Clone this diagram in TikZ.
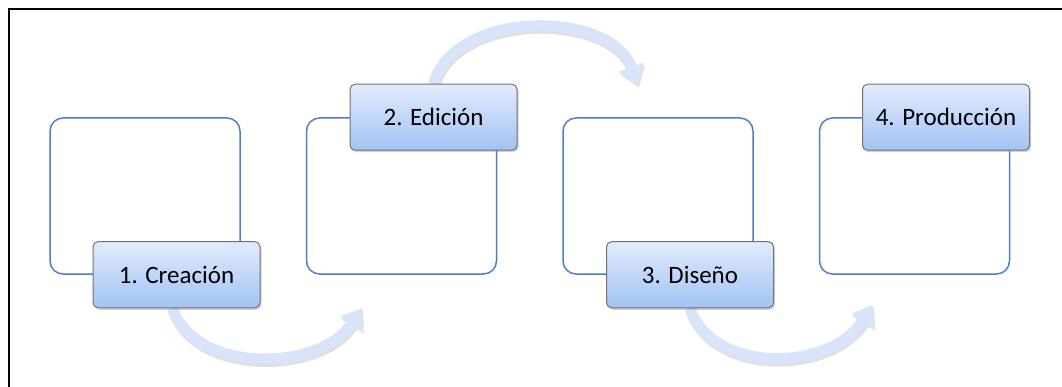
\documentclass[tikz,border=0pt]{standalone}
\usepackage{fontspec}
\setmainfont{Carlito}
\usetikzlibrary{arrows.meta,shadows,backgrounds}

\definecolor{boxline}{RGB}{79,129,189}
\definecolor{labtop}{RGB}{226,235,252}
\definecolor{labbot}{RGB}{162,194,245}
\definecolor{flowblue}{RGB}{216,228,249}

\tikzset{
  stage/.style={draw=boxline,line width=1.5pt,rounded corners=13pt,
    minimum width=190pt,minimum height=156pt,inner sep=0pt,fill=white},
  tag/.style={draw=black!55,line width=1pt,rounded corners=5pt,
    minimum width=167pt,minimum height=66pt,inner sep=0pt,
    top color=labtop,bottom color=labbot,
    drop shadow={shadow xshift=1.5pt,shadow yshift=-2pt,opacity=.35}},
  flow/.style={draw=flowblue,line width=11pt,
    -{Triangle[width=27pt,length=19pt,line width=0pt]}},
  flowshade/.style={draw=black,opacity=.12,line width=11pt,
    transform canvas={xshift=1pt,yshift=-2.5pt},
    -{Triangle[width=27pt,length=19pt,line width=0pt]}},
}

\begin{document}
\begin{tikzpicture}[x=1pt,y=-1pt,font=\fontsize{25}{30}\selectfont]
\useasboundingbox (0,0) rectangle (1062,387);

% frame
\draw[line width=2pt] (9,387) -- (9,9) -- (1062,9);

% stages
\node[stage] (box1) at (145,196) {};
\node[stage] (box2) at (401.5,196) {};
\node[stage] (box3) at (658,196) {};
\node[stage] (box4) at (914.5,196) {};

\node[tag] (lab1) at ([xshift=31.5pt]box1.south) {1. Creación};
\node[tag] (lab2) at ([xshift=32pt]box2.north) {2. Edición};
\node[tag] (lab3) at ([xshift=32pt]box3.south) {3. Diseño};
\node[tag] (lab4) at ([xshift=31.5pt]box4.north) {4. Producción};

% arrow ends
\coordinate (e1) at (362,308);
\coordinate (e2) at (638,85);
\coordinate (e3) at (873,305);

\begin{scope}[on background layer]
\draw[flowshade] ([xshift=-4pt]lab1.south) .. controls +(22,66) and +(-42,64) .. (e1);
\draw[flowshade] (lab2.north) .. controls +(22,-75) and +(-28,-75) .. (e2);
\draw[flowshade] (lab3.south) .. controls +(22,66) and +(-43,67) .. (e3);

\draw[flow] ([xshift=-4pt]lab1.south) .. controls +(22,66) and +(-42,64) .. (e1);
\draw[flow] (lab2.north) .. controls +(22,-75) and +(-28,-75) .. (e2);
\draw[flow] (lab3.south) .. controls +(22,66) and +(-43,67) .. (e3);
\end{scope}

\end{tikzpicture}
\end{document}
